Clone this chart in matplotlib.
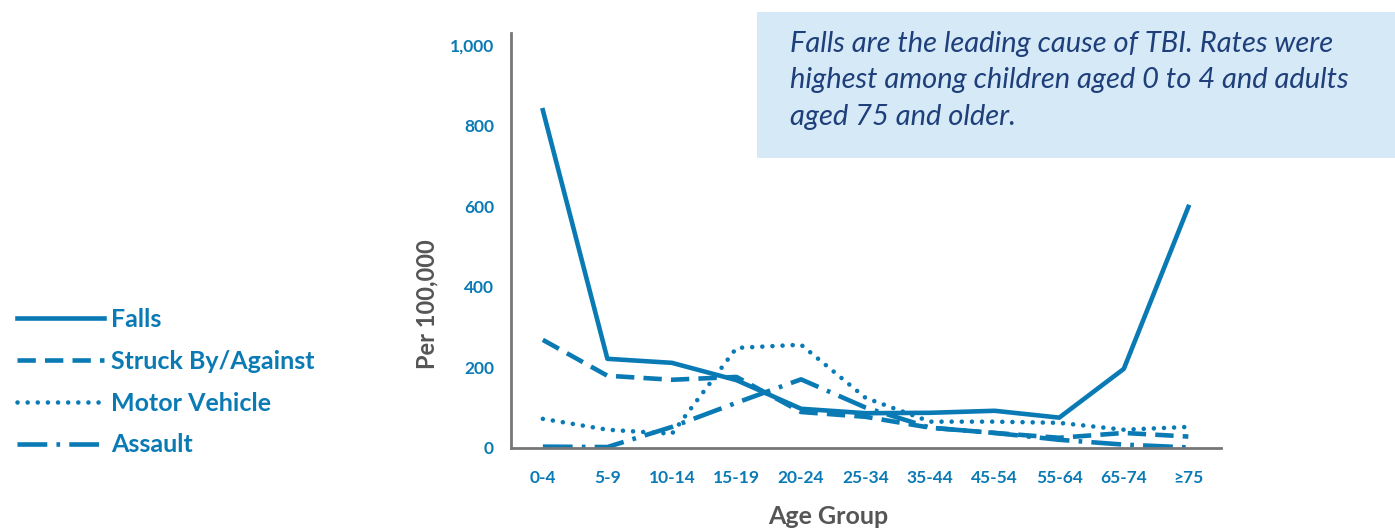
import matplotlib
matplotlib.use('Agg')
import matplotlib.pyplot as plt
from matplotlib.lines import Line2D
from matplotlib.patches import Rectangle

plt.rc('font', family='Lato')

age_groups = ['0-4', '5-9', '10-14', '15-19', '20-24', '25-34', '35-44',
              '45-54', '55-64', '65-74', '≥75']
falls = [838, 221, 211, 168, 97, 86, 87, 92, 75, 196, 598]
struck = [268, 179, 169, 176, 89, 77, 50, 37, 25, 37, 28]
motor = [72, 45, 35, 248, 256, 124, 65, 65, 62, 45, 52]
assault = [3, 2, 52, 112, 170, 100, 50, 37, 20, 8, 1]
series_names = ['Falls', 'Struck By/Against', 'Motor Vehicle', 'Assault']
yticks = [0, 200, 400, 600, 800, 1000]
note = ('Falls are the leading cause of TBI. Rates were\n'
        'highest among children aged 0 to 4 and adults\n'
        'aged 75 and older.')

blue = '#0a7ab5'
gray = '#555555'
lw = 3.3
styles = [
    dict(linestyle='-'),
    dict(linestyle=(0, (4.0, 2.0))),
    dict(linestyle=(0, (0.01, 2.2)), dash_capstyle='round'),
    dict(linestyle=(0, (6.5, 2.0, 0.8, 2.0))),
]

fig = plt.figure(figsize=(13.95, 5.3), dpi=100)
ax = fig.add_axes([0.366, 0.155, 0.509, 0.783])

x = list(range(len(age_groups)))
for vals, st in zip([falls, struck, motor, assault], styles):
    ax.plot(x, vals, color=blue, linewidth=lw, **st)

ax.set_xlim(-0.5, len(age_groups) - 0.5)
ax.set_ylim(0, 1030)
ax.set_yticks(yticks)
ax.set_yticklabels([f'{v:,}' for v in yticks])
ax.set_xticks(x)
ax.set_xticklabels(age_groups)
ax.tick_params(length=0, labelcolor=blue, labelsize=12.5)
ax.tick_params(axis='x', pad=16)
ax.tick_params(axis='y', pad=12)
for lab in ax.get_xticklabels() + ax.get_yticklabels():
    lab.set_fontweight('bold')
for side in ['top', 'right']:
    ax.spines[side].set_visible(False)
for side in ['left', 'bottom']:
    ax.spines[side].set_color('#777777')
    ax.spines[side].set_linewidth(2)

ax.set_xlabel('Age Group', color=gray, fontsize=18, fontweight='bold', va='center')
ax.xaxis.set_label_coords(0.447, -0.166)
ax.set_ylabel('Per 100,000', color=gray, fontsize=17, fontweight='bold')
ax.yaxis.set_label_coords(-0.102, 0.347)

handles = [Line2D([0], [0], color=blue, linewidth=lw, **st) for st in styles]
leg = fig.legend(handles, series_names, loc='upper left',
                 bbox_to_anchor=(-0.004, 0.461), frameon=False,
                 fontsize=18, handlelength=3.5, handletextpad=0.25,
                 labelspacing=0.75, labelcolor=blue)
for t in leg.get_texts():
    t.set_fontweight('bold')

fig.patches.append(Rectangle((0.543, 0.702), 0.457, 0.276,
                             transform=fig.transFigure, facecolor='#d6e9f7',
                             edgecolor='none', zorder=0))
fig.text(0.566, 0.942, note, fontsize=21, style='italic', color='#1e3f7a',
         va='top', ha='left', linespacing=1.5)

fig.savefig('out.png', dpi=100)
